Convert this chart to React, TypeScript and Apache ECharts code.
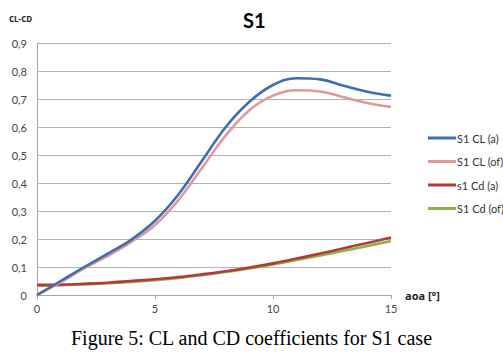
import React, { useEffect, useRef } from "react";
import * as echarts from "echarts";

const aoa = [0, 1, 2, 3, 4, 5, 6, 7, 8, 9, 10, 11, 12, 13, 14, 15];
const clA = [0, 0.05, 0.1, 0.148, 0.198, 0.265, 0.36, 0.48, 0.6, 0.69, 0.75, 0.774, 0.77, 0.747, 0.726, 0.712];
const clOf = [0, 0.045, 0.095, 0.14, 0.19, 0.25, 0.34, 0.455, 0.57, 0.66, 0.712, 0.731, 0.727, 0.706, 0.686, 0.672];
const cdA = [0.036, 0.037, 0.04, 0.044, 0.05, 0.056, 0.064, 0.074, 0.085, 0.098, 0.113, 0.13, 0.148, 0.167, 0.186, 0.205];
const cdOf = [0.033, 0.035, 0.038, 0.042, 0.047, 0.053, 0.061, 0.071, 0.082, 0.095, 0.109, 0.125, 0.141, 0.158, 0.175, 0.193];
const seriesNames = ["S1 CL (a)", "S1 CL (of)", "s1 Cd (a)", "S1 Cd (of)"];
const seriesColors = ["#3D6EB3", "#E09898", "#B5393A", "#8BB446"];

export default function App() {
  const ref = useRef<HTMLDivElement>(null);
  useEffect(() => {
    if (!ref.current) return;
    const chart = echarts.init(ref.current, null, { renderer: "svg" });
    const datasets = [clA, clOf, cdA, cdOf];
    chart.setOption({
      animation: false,
      backgroundColor: "#ffffff",
      textStyle: { fontFamily: "Lato" },
      title: [
        { text: "S1", left: 243, top: 10, padding: 0, textStyle: { fontSize: 20, fontWeight: "bold", color: "#000", fontFamily: "Lato" } },
        { text: "CL-CD", left: 9, top: 14, padding: 0, textStyle: { fontSize: 8, fontWeight: "bold", color: "#222", fontFamily: "Open Sans" } },
        { text: "aoa [°]", left: 405, top: 290, padding: 0, textStyle: { fontSize: 11, fontWeight: "bold", color: "#222", fontFamily: "Open Sans" } },
        { text: "Figure 5: CL and CD coefficients for S1 case", left: "center", top: 328, padding: 0, textStyle: { fontSize: 20, fontWeight: "normal", color: "#000", fontFamily: "Liberation Serif" } },
      ],
      legend: {
        orient: "vertical",
        left: 423,
        top: 126,
        itemWidth: 28,
        itemHeight: 3,
        itemGap: 9.5,
        icon: "rect",
        textStyle: { fontSize: 11, lineHeight: 14, color: "#333", padding: [0, 0, 0, -4], fontFamily: "Lato" },
        data: seriesNames,
      },
      grid: { left: 37, right: 112, top: 43, bottom: 61 },
      xAxis: {
        type: "value",
        min: 0,
        max: 15,
        interval: 5,
        axisLine: { show: true, lineStyle: { color: "#a6a6a6" } },
        axisTick: { show: true, length: 4, lineStyle: { color: "#a6a6a6" } },
        axisLabel: { fontSize: 11, color: "#444", margin: 8, fontFamily: "Lato" },
        splitLine: { show: false },
      },
      yAxis: {
        type: "value",
        min: 0,
        max: 0.9,
        interval: 0.1,
        axisLine: { show: true, lineStyle: { color: "#a6a6a6" } },
        axisTick: { show: false },
        axisLabel: { fontSize: 11, color: "#444", margin: 10, fontFamily: "Lato", formatter: (v: number) => (Math.round(v * 10) / 10).toString().replace(".", ",") },
        splitLine: { show: true, lineStyle: { color: "#b3b3b3", width: 1 } },
      },
      series: datasets.map((d, i) => ({
        name: seriesNames[i],
        type: "line",
        smooth: 0.4,
        showSymbol: false,
        symbol: "none",
        data: aoa.map((x, j) => [x, d[j]]),
        lineStyle: { color: seriesColors[i], width: 2.6 },
        itemStyle: { color: seriesColors[i] },
        z: 10 - i,
      })),
    });
    return () => chart.dispose();
  }, []);
  return <div ref={ref} style={{ position: "fixed", left: 0, top: 0, width: 503, height: 356 }} />;
}
